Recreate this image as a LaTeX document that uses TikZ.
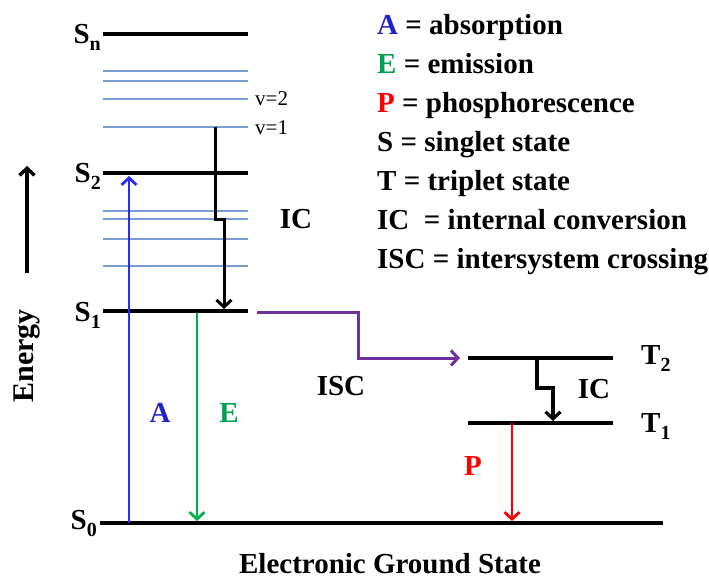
\documentclass[tikz,border=0pt]{standalone}
\usepackage{fontspec}
\setmainfont{Liberation Serif}
\usetikzlibrary{arrows.meta}
\definecolor{vibblue}{HTML}{7A9DD4}
\definecolor{absblue}{HTML}{2B2BFF}
\definecolor{emgreen}{HTML}{00B050}
\definecolor{txtgreen}{HTML}{00A050}
\definecolor{iscpurple}{HTML}{7030A0}
\definecolor{phred}{HTML}{FF0000}
\newcommand\lowidx[1]{\raisebox{-7pt}{\fontsize{20}{22}\selectfont #1}}
\tikzset{
  level/.style={line width=4.2pt},
  vibline/.style={line width=1.1pt, vibblue},
  tip/.style={-{Straight Barb[length=7pt,width=15pt]}},
  conn/.style={tip, line width=2.8pt, line join=miter},
  statelbl/.style={anchor=base east, inner sep=0pt},
  legend/.style={anchor=base west, inner sep=0pt},
  vlbl/.style={anchor=west, inner sep=0pt, font=\fontsize{21}{24}\selectfont},
  plainlbl/.style={inner sep=0pt}
}
\begin{document}
\begin{tikzpicture}[x=1pt,y=-1pt,font=\fontsize{29}{34}\selectfont\bfseries]
\useasboundingbox (0,0) rectangle (709,581);

% level coordinates
\coordinate (Snl) at (103,34);  \coordinate (Snr) at (248,34);
\coordinate (S2l) at (103,173); \coordinate (S2r) at (248,173);
\coordinate (S1l) at (103,311); \coordinate (S1r) at (248,311);
\coordinate (S0l) at (100,523); \coordinate (S0r) at (663,523);
\coordinate (T2l) at (468,358); \coordinate (T2r) at (613,358);
\coordinate (T1l) at (468,423); \coordinate (T1r) at (613,423);

% vibrational levels
\foreach \yy in {71,81,99,127,211,219,239,266}
  \draw[vibline] (103,\yy) -- (248,\yy);

% electronic levels
\draw[level] (Snl) -- (Snr);
\draw[level] (S2l) -- (S2r);
\draw[level] (S1l) -- (S1r);
\draw[level] (S0l) -- (S0r);
\draw[level] (T2l) -- (T2r);
\draw[level] (T1l) -- (T1r);

% state labels
\node[statelbl] (lSn) at (101,43) {S\lowidx{n}};
\node[statelbl] (lS2) at (101,182) {S\lowidx{2}};
\node[statelbl] (lS1) at (101,321) {S\lowidx{1}};
\node[statelbl] (lS0) at (97,529) {S\lowidx{0}};
\node[anchor=base west, inner sep=0pt] (lT2) at (641,364) {T\lowidx{2}};
\node[anchor=base west, inner sep=0pt] (lT1) at (641,432) {T\lowidx{1}};

\node[vlbl] (v2) at (255,99) {v=2};
\node[vlbl] (v1) at (255,128) {v=1};

% transition coordinates
\coordinate (a0) at (129,523); \coordinate (a2) at (129,176);
\coordinate (e1) at (197,313); \coordinate (e0) at (197,521);
\coordinate (ic1s) at (215,127); \coordinate (ic1a) at (215,219);
\coordinate (ic1b) at (224,219); \coordinate (ic1e) at (224,309);
\coordinate (isc0) at (257,312); \coordinate (isca) at (358,312);
\coordinate (iscb) at (358,358); \coordinate (isce) at (460,358);
\coordinate (ic2s) at (537,358); \coordinate (ic2a) at (537,388);
\coordinate (ic2b) at (553,388); \coordinate (ic2e) at (553,421);
\coordinate (p1) at (512,423); \coordinate (p0) at (512,521);
\coordinate (en0) at (27,273); \coordinate (en1) at (27,166);

% transitions
\draw[conn, absblue] (a0) -- (a2);
\draw[conn, emgreen] (e1) -- (e0);
\draw[conn, line width=3pt] (ic1s) -- (ic1a) -- (ic1b) -- (ic1e);
\draw[conn, iscpurple, line width=3pt] (isc0) -- (isca) -- (iscb) -- (isce);
\draw[conn, line width=3.2pt] (ic2s) -- (ic2a) -- (ic2b) -- (ic2e);
\draw[conn, phred] (p1) -- (p0);
\draw[conn, line width=3.4pt] (en0) -- (en1);

% process labels
\node[plainlbl] (lIC1) at (296,219) {IC};
\node[plainlbl] (lISC) at (341,386) {ISC};
\node[plainlbl] (lIC2) at (594,389) {IC};
\node[plainlbl, text=absblue!80!black] (lA) at (160,413) {A};
\node[plainlbl, text=txtgreen] (lE) at (229,413) {E};
\node[plainlbl, text=phred] (lP) at (473,466) {P};

\node[rotate=90, anchor=base, inner sep=0pt, font=\fontsize{30}{34}\selectfont\bfseries] (energy) at (33,356) {Energy};
\node[anchor=base, inner sep=0pt] (ground) at (390,573) {Electronic Ground State};

% legend
\node[legend] (g1) at (377,34) {\textcolor{absblue!80!black}{A} = absorption};
\node[legend] (g2) at (377,73) {\textcolor{txtgreen}{E} = emission};
\node[legend] (g3) at (377,112) {\textcolor{phred}{P} = phosphorescence};
\node[legend] (g4) at (377,151) {S = singlet state};
\node[legend] (g5) at (377,190) {T = triplet state};
\node[legend] (g6) at (377,229) {IC\ \ = internal conversion};
\node[legend] (g7) at (377,268) {ISC = intersystem crossing};
\end{tikzpicture}
\end{document}
